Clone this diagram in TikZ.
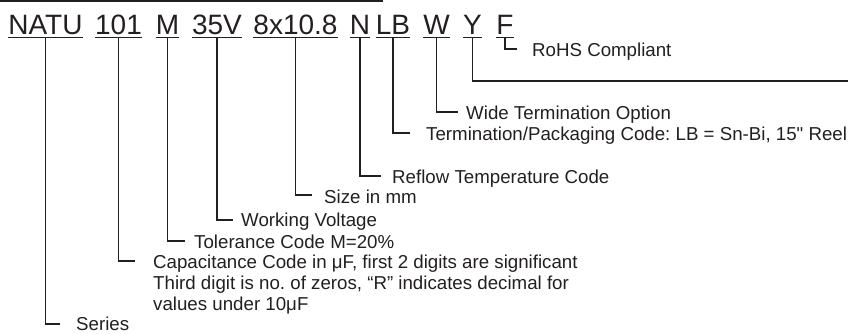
\documentclass[tikz,border=0pt]{standalone}
\usepackage{fontspec}
\setmainfont{Liberation Sans}[Ligatures=TeXOff]
\usepackage{tikz}
\frenchspacing

\definecolor{ink}{RGB}{35,31,32}

\begin{document}
\begin{tikzpicture}[
  x=1pt, y=-1pt,
  field/.style={anchor=base, inner xsep=0pt, inner ysep=3pt, text=ink, font=\fontsize{28}{30}\selectfont},
  lbl/.style={anchor=base west, inner sep=0pt, text=ink, align=left, font=\fontsize{18.7}{21}\selectfont},
  ln/.style={draw=ink, line width=1.1pt},
]
\useasboundingbox (0,0) rectangle (848,333);
\draw[ln] (0,1) -- (383,1);
% part number fields
\node[field] (natu) at (45.5,34) {NATU};
\node[field] (c101) at (118.5,34) {101};
\node[field] (m) at (167.5,34) {M};
\node[field] (v35) at (217,34) {35V};
\node[field] (sz) at (295.5,34) {8x10.8};
\node[field] (n) at (360,34) {N};
\node[field] (lb) at (393,34) {LB};
\node[field] (w) at (436.5,34) {W};
\node[field] (yy) at (472.5,34) {Y};
\node[field] (f) at (505,34) {F};
\foreach \p in {natu,c101,m,v35,sz,n,lb,w,yy,f}
  \draw[ln] (\p.south west) -- (\p.south east);
% descriptions
\node[lbl] (rohs) at (532,56) {RoHS Compliant};
\node[lbl] (wide) at (466,119) {Wide Termination Option};
\node[lbl] (term) at (426,140) {Termination/Packaging Code: LB = Sn-Bi, 15" Reel};
\node[lbl] (reflow) at (392,183) {Reflow Temperature Code};
\node[lbl] (size) at (324,203) {Size in mm};
\node[lbl] (volt) at (241,226) {Working Voltage};
\node[lbl] (tol) at (194,248) {Tolerance Code M=20\%};
\node[lbl] (cap) at (153,310) {Capacitance Code in μF, first 2 digits are significant\\
  Third digit is no. of zeros, “R” indicates decimal for\\values under 10μF};
\node[lbl] (series) at (76,330) {Series};
\coordinate (yend) at (848,81);
% leaders
\draw[ln] (f.south) |- ([xshift=-15pt,yshift=7pt]rohs.base west);
\draw[ln] (yy.south) |- (yend);
\draw[ln] (w.south) |- ([xshift=-8pt,yshift=7pt]wide.base west);
\draw[ln] (lb.south) |- ([xshift=-16pt,yshift=7pt]term.base west);
\draw[ln] (n.south) |- ([xshift=-11pt,yshift=7pt]reflow.base west);
\draw[ln] (sz.south) |- ([xshift=-12pt,yshift=8pt]size.base west);
\draw[ln] (v35.south) |- ([xshift=-8pt,yshift=6pt]volt.base west);
\draw[ln] (m.south) |- ([xshift=-9pt,yshift=7pt]tol.base west);
\draw[ln] (c101.south) |- ([xshift=-18pt,yshift=49pt]cap.base west);
\draw[ln] (natu.south) |- ([xshift=-16pt,yshift=6pt]series.base west);
\end{tikzpicture}
\end{document}
